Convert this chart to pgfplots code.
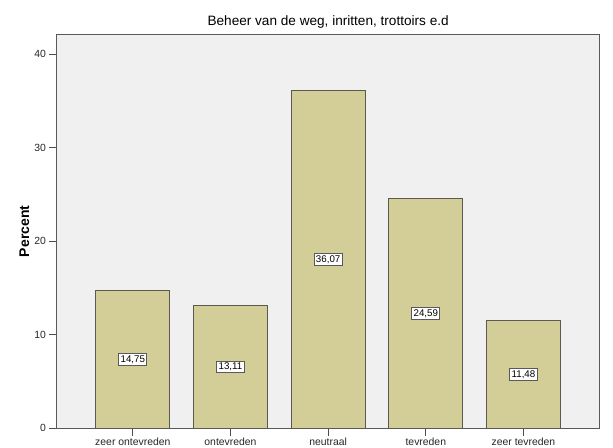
\documentclass[border=0pt]{standalone}
\usepackage{pgfplots}
\pgfplotsset{compat=1.18}
\usepackage{fontspec}
\setmainfont{Liberation Sans}
\definecolor{barfill}{HTML}{D3CE98}
\definecolor{bgfill}{HTML}{F0F0F0}
\definecolor{edge}{HTML}{5A5A50}
\begin{document}
\begin{tikzpicture}[x=0.75pt,y=0.75pt]
\path[use as bounding box] (0,0) rectangle (613,448);
\begin{axis}[
  at={(58,21)}, anchor=south west,
  scale only axis,
  width=543*0.75pt, height=394*0.75pt,
  xmin=-0.78, xmax=4.78,
  ymin=0, ymax=42.1,
  axis background/.style={fill=bgfill},
  axis line style={draw=black!65, line width=0.9pt},
  xtick={0,1,2,3,4},
  xticklabels={zeer ontevreden, ontevreden, neutraal, tevreden, zeer tevreden},
  ytick={0,10,20,30,40},
  tick align=outside,
  tick pos=left,
  major tick length=5.5pt,
  tick style={black!70, line width=0.6pt},
  ticklabel style={font=\fontsize{7.8}{9}\selectfont, text=black!85},
  /pgf/number format/assume math mode=true,
  xticklabel style={yshift=1.5pt},
  yticklabel style={xshift=1pt},
  ylabel={\textbf{Percent}},
  ylabel style={font=\fontsize{10.5}{12}\selectfont, yshift=-3pt},
  title={Beheer van de weg, inritten, trottoirs e.d},
  title style={font=\fontsize{10.2}{12}\selectfont, yshift=-5pt},
  ybar, bar width=0.757,
  clip=false,
]
\addplot[fill=barfill, draw=edge, line width=0.8pt] coordinates {
  (0,14.75) (1,13.11) (2,36.07) (3,24.59) (4,11.48)
};
\addplot[draw=none, mark=none, only marks,
  nodes near coords, point meta=explicit symbolic,
  every node near coord/.style={anchor=center, fill=white, draw=black!65, line width=0.7pt,
    inner sep=1.4pt, font=\fontsize{7.3}{8}\selectfont, yshift=0pt}]
  coordinates {
  (0,7.375)[14,75] (1,6.555)[13,11] (2,18.035)[36,07] (3,12.295)[24,59] (4,5.74)[11,48]
};
\end{axis}
\end{tikzpicture}
\end{document}
